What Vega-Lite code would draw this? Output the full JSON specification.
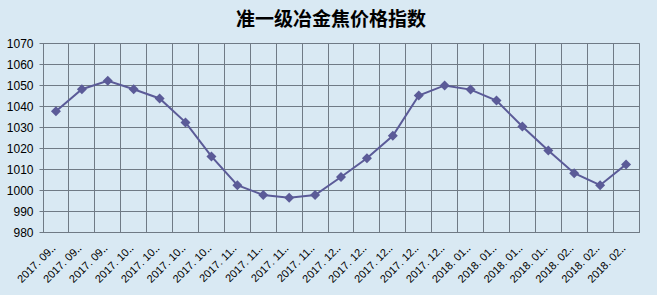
{
  "$schema": "https://vega.github.io/schema/vega-lite/v6.json",
  "autosize": "none",
  "width": 596,
  "height": 189,
  "padding": {"left": 43, "top": 43, "right": 18, "bottom": 63},
  "background": "#d9e9f3",
  "title": {
    "text": "准一级冶金焦价格指数",
    "font": "Noto Sans CJK SC",
    "fontSize": 19,
    "fontWeight": "bold",
    "color": "#000000",
    "anchor": "middle",
    "dx": -10,
    "offset": 7
  },
  "data": {
    "values": [
      {"date": "2017.09.08", "index": 1037.5},
      {"date": "2017.09.15", "index": 1048},
      {"date": "2017.09.22", "index": 1052},
      {"date": "2017.10.06", "index": 1048},
      {"date": "2017.10.13", "index": 1043.6},
      {"date": "2017.10.20", "index": 1032.2},
      {"date": "2017.10.27", "index": 1016},
      {"date": "2017.11.03", "index": 1002.3},
      {"date": "2017.11.10", "index": 997.6},
      {"date": "2017.11.17", "index": 996.3},
      {"date": "2017.11.24", "index": 997.6},
      {"date": "2017.12.01", "index": 1006.2},
      {"date": "2017.12.08", "index": 1015.1},
      {"date": "2017.12.15", "index": 1025.8},
      {"date": "2017.12.22", "index": 1045},
      {"date": "2017.12.29", "index": 1049.8},
      {"date": "2018.01.05", "index": 1047.8},
      {"date": "2018.01.12", "index": 1042.6},
      {"date": "2018.01.19", "index": 1030.2},
      {"date": "2018.01.26", "index": 1018.8},
      {"date": "2018.02.02", "index": 1008},
      {"date": "2018.02.09", "index": 1002.3},
      {"date": "2018.02.23", "index": 1012.2}
    ]
  },
  "config": {
    "view": {"stroke": "#6f7a85", "strokeWidth": 1},
    "axis": {
      "labelFont": "Liberation Sans",
      "labelColor": "#000000",
      "gridColor": "#6f7a85",
      "gridOpacity": 1,
      "gridWidth": 1,
      "domainColor": "#6f7a85",
      "tickColor": "#6f7a85",
      "title": null
    }
  },
  "encoding": {
    "x": {
      "field": "date",
      "type": "ordinal",
      "sort": null,
      "scale": {"type": "band", "paddingInner": 0, "paddingOuter": 0},
      "axis": {
        "bandPosition": 0,
        "grid": true,
        "ticks": false,
        "labelAngle": -45,
        "labelFontSize": 11,
        "labelPadding": 10,
        "labelOffset": -6,
        "labelExpr": "slice(datum.value,0,5) + ' ' + slice(datum.value,5,7) + '‥'"
      }
    },
    "y": {
      "field": "index",
      "type": "quantitative",
      "scale": {"domain": [980, 1070], "nice": false, "zero": false},
      "axis": {
        "values": [980, 990, 1000, 1010, 1020, 1030, 1040, 1050, 1060, 1070],
        "format": "d",
        "grid": true,
        "tickSize": 4,
        "labelPadding": 6,
        "labelFontSize": 12
      }
    }
  },
  "layer": [
    {"mark": {"type": "line", "color": "#5b5b98", "strokeWidth": 2}},
    {"mark": {"type": "point", "shape": "diamond", "filled": true, "color": "#5b5b98", "size": 100, "opacity": 1}}
  ]
}
